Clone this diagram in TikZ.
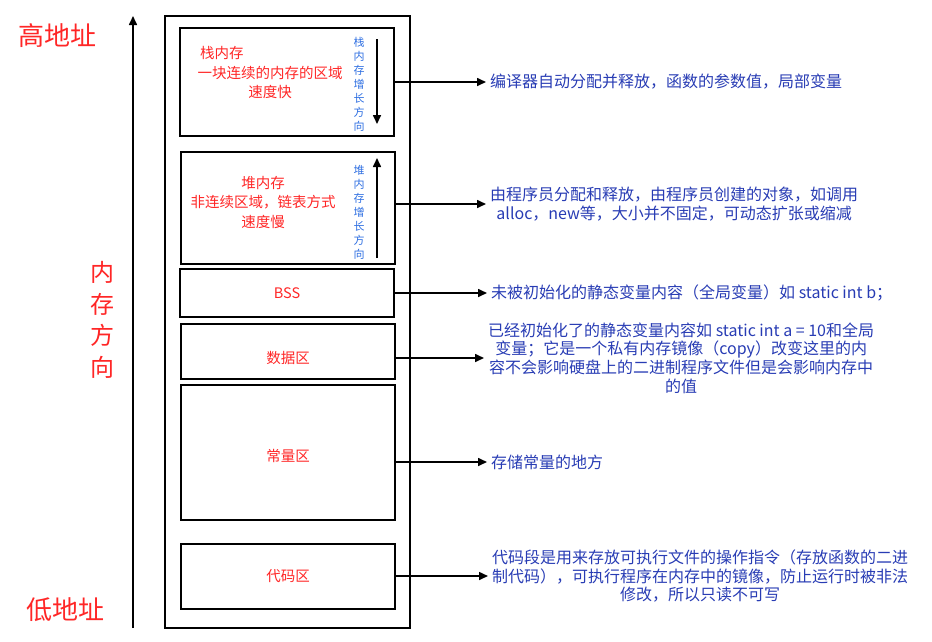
\documentclass[tikz,border=0pt]{standalone}
\usepackage{fontspec}
\setmainfont{Noto Sans CJK SC}
\usetikzlibrary{arrows.meta}

\definecolor{lblred}{RGB}{255,38,38}
\definecolor{descblue}{RGB}{40,60,180}
\definecolor{dirblue}{RGB}{45,110,225}

\tikzset{
  membox/.style={draw, line width=2pt, minimum width=214pt, inner sep=0pt,
    text=lblred, font=\fontsize{14.5}{19}\selectfont, align=center},
  boxlbl/.style={text=lblred, inner sep=0pt, align=center,
    font=\fontsize{14.5}{19.5}\selectfont},
  desc/.style={anchor=west, inner xsep=4pt, inner ysep=0pt, text=descblue,
    align=center, font=\fontsize{16}{18.7}\selectfont},
  dirtext/.style={text=dirblue, inner sep=0pt, align=center,
    font=\fontsize{11}{14}\selectfont},
  addrlbl/.style={text=lblred, inner sep=0pt, align=center},
  conn/.style={line width=1.6pt, -{Triangle[length=9pt,width=8pt]}},
  growarr/.style={line width=1.6pt, -{Triangle[length=9pt,width=8pt]}},
}

\begin{document}
\begin{tikzpicture}[x=1pt,y=-1pt]
    \useasboundingbox (0,0) rectangle (932,641);

    % address direction on the left
    \node[addrlbl, font=\fontsize{26}{30}\selectfont] (high) at (58,36) {高地址};
    \node[addrlbl, font=\fontsize{26}{30}\selectfont] (low) at (66,610) {低地址};
    \node[addrlbl, font=\fontsize{24}{31.7}\selectfont] (memdir) at (102,320) {内\\存\\方\\向};
    \coordinate (axisbot) at (133,628);
    \coordinate (axistop) at (133,16);
    \draw[growarr] (axisbot) -- (axistop);

    % memory layout
    \node[draw, line width=2pt, minimum width=245pt, minimum height=612pt] (outer) at (287.5,322) {};

    \node[membox, minimum height=108] (stack) at (287,82) {};
    \node[boxlbl] (stacklbl) at (270,73) {栈内存\hspace*{96.5pt}\\一块连续的内存的区域\\速度快};
    \node[dirtext] (stackdir) at (359,84) {栈\\内\\存\\增\\长\\方\\向};
    \coordinate (stacktop) at (377,39);
    \coordinate (stackbot) at (377,124);
    \draw[growarr] (stacktop) -- (stackbot);

    \node[membox, minimum height=112] (heap) at (288,208) {};
    \node[boxlbl] (heaplbl) at (263,202) {堆内存\\非连续区域，链表方式\\速度慢};
    \node[dirtext] (heapdir) at (359,212.5) {堆\\内\\存\\增\\长\\方\\向};
    \coordinate (heapbot) at (377,258);
    \coordinate (heaptop) at (377,158);
    \draw[growarr] (heapbot) -- (heaptop);

    \node[membox, minimum height=48] (bss) at (287,293) {BSS};
    \node[membox, minimum height=55] (data) at (288,351.5) {};
    \node[boxlbl] (datalbl) at (288,358) {数据区};
    \node[membox, minimum height=135] (const) at (288,452.5) {};
    \node[boxlbl] (constlbl) at (288,456) {常量区};
    \node[membox, minimum height=65] (code) at (288,576.5) {代码区};

    % descriptions
    \node[desc] (stackdesc) at (486,82) {编译器自动分配并释放，函数的参数值，局部变量};
    \node[desc] (heapdesc) at (486,204) {由程序员分配和释放，由程序员创建的对象，如调用\\alloc，new等，大小并不固定，可动态扩张或缩减};
    \node[desc] (bssdesc) at (487,293) {未被初始化的静态变量内容（全局变量）如 static int b；};
    \node[desc] (datadesc) at (484,358) {已经初始化了的静态变量内容如 static int a = 10和全局\\变量；它是一个私有内存镜像（copy）改变这里的内\\容不会影响硬盘上的二进制程序文件但是会影响内存中\\的值};
    \node[desc] (constdesc) at (487,462) {存储常量的地方};
    \node[desc] (codedesc) at (488,576) {代码段是用来存放可执行文件的操作指令（存放函数的二进\\制代码），可执行程序在内存中的镜像，防止运行时被非法\\修改，所以只读不可写};

    \draw[conn] (stack.east) -- (stackdesc.west);
    \draw[conn] (heapdesc.west -| heap.east) -- (heapdesc.west);
    \draw[conn] (bss.east) -- (bssdesc.west);
    \draw[conn] (datadesc.west -| data.east) -- (datadesc.west);
    \draw[conn] (constdesc.west -| const.east) -- (constdesc.west);
    \draw[conn] (codedesc.west -| code.east) -- (codedesc.west);

\end{tikzpicture}
\end{document}
